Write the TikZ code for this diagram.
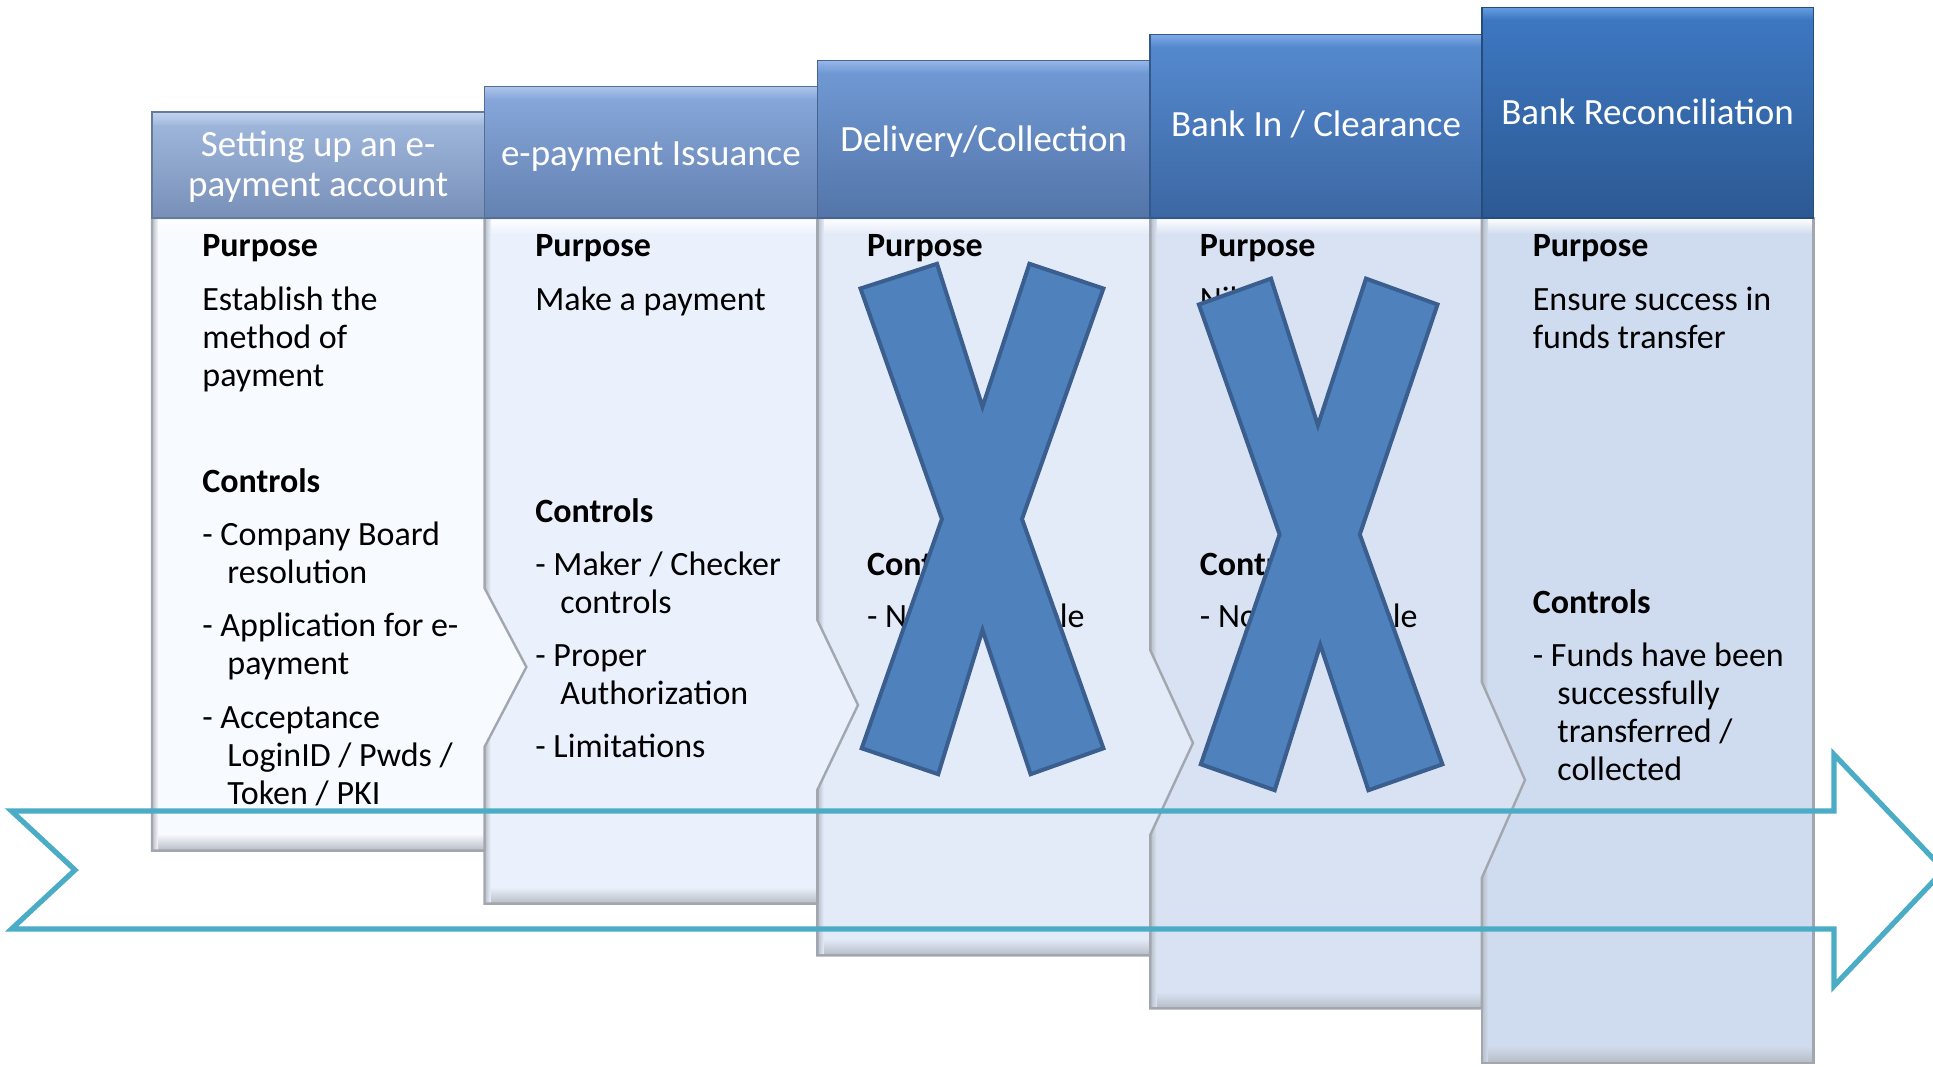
\documentclass[tikz,border=0pt]{standalone}
\usepackage{fontspec}
\setmainfont{Carlito}
\definecolor{bd1}{HTML}{F7FAFE}
\definecolor{bd2}{HTML}{EBF1FC}
\definecolor{bd3}{HTML}{E3EAF8}
\definecolor{bd4}{HTML}{D9E2F3}
\definecolor{bd5}{HTML}{CFDBEE}
\definecolor{hd1t}{HTML}{A3BADF}
\definecolor{hd1b}{HTML}{7890B8}
\definecolor{hd1h}{HTML}{C3D3EE}
\definecolor{hd2t}{HTML}{8AA9DC}
\definecolor{hd2b}{HTML}{6382B2}
\definecolor{hd2h}{HTML}{AEC5EB}
\definecolor{hd3t}{HTML}{729BD6}
\definecolor{hd3b}{HTML}{5375A9}
\definecolor{hd3h}{HTML}{97B7E8}
\definecolor{hd4t}{HTML}{568BD1}
\definecolor{hd4b}{HTML}{3C67A3}
\definecolor{hd4h}{HTML}{80AAE5}
\definecolor{hd5t}{HTML}{3E79C3}
\definecolor{hd5b}{HTML}{2C5993}
\definecolor{hd5h}{HTML}{659DE0}
\definecolor{edgegray}{HTML}{A2A7AF}
\definecolor{bevelgray}{HTML}{B7BCC5}
\definecolor{xfill}{HTML}{4F81BD}
\definecolor{xedge}{HTML}{3A5F8F}
\definecolor{arrowteal}{HTML}{4BACC6}
\begin{document}
\begin{tikzpicture}[x=0.5pt,y=-0.5pt,
  bodytxt/.style={anchor=base west, inner sep=0pt, font=\fontsize{17}{19}\selectfont, text=black},
  headtxt/.style={anchor=base, inner sep=0pt, font=\fontsize{18.5}{20.5}\selectfont, text=white},
  colborder/.style={draw=edgegray, line width=1.2pt, line join=miter},
  hdborder/.style={line width=0.8pt},
  xmark/.style={fill=xfill, draw=xedge, line width=2pt, line join=miter},
  bigarrow/.style={draw=arrowteal, line width=2.6pt, line join=miter}]
\useasboundingbox (0,0) rectangle (1933,1066);
\fill[white] (0,0) rectangle (1933,1066);
\begin{scope}
\clip (0,0) rectangle (1933,1066);

% ---------- column 5 body ----------
\fill[bd5] (1481.8,218) rectangle (1813.4,1062.7);
\shade[top color=white, bottom color=bd5] (1481.8,218) rectangle (1813.4,234);
\shade[top color=bd5, bottom color=bevelgray] (1481.8,1046) rectangle (1813.4,1062.7);
\shade[left color=bevelgray, right color=bd5] (1481.8,218) rectangle (1488,1062.7);
\draw[colborder] (1481.8,218) rectangle (1813.4,1062.7);

% ---------- column 4 body ----------
\fill[bd4] (1150.2,218) -- (1481.8,218) -- (1481.8,682) -- (1525,780) -- (1481.8,878) -- (1481.8,1008.4) -- (1150.2,1008.4) -- cycle;
\shade[top color=white, bottom color=bd4] (1150.2,218) rectangle (1481.8,234);
\shade[top color=bd4, bottom color=bevelgray] (1150.2,992) rectangle (1481.8,1008.4);
\shade[left color=bevelgray, right color=bd4] (1150.2,218) rectangle (1156.4,1008.4);
\draw[colborder] (1150.2,218) -- (1481.8,218) -- (1481.8,682) -- (1525,780) -- (1481.8,878) -- (1481.8,1008.4) -- (1150.2,1008.4) -- cycle;

% ---------- column 3 body ----------
\fill[bd3] (817.3,218) -- (1150.2,218) -- (1150.2,650) -- (1193,743) -- (1150.2,835) -- (1150.2,955.4) -- (817.3,955.4) -- cycle;
\shade[top color=white, bottom color=bd3] (817.3,218) rectangle (1150.2,234);
\shade[top color=bd3, bottom color=bevelgray] (817.3,939) rectangle (1150.2,955.4);
\shade[left color=bevelgray, right color=bd3] (817.3,218) rectangle (823.5,955.4);
\draw[colborder] (817.3,218) -- (1150.2,218) -- (1150.2,650) -- (1193,743) -- (1150.2,835) -- (1150.2,955.4) -- (817.3,955.4) -- cycle;

% ---------- column 2 body ----------
\fill[bd2] (484.5,218) -- (817.3,218) -- (817.3,620) -- (858,705) -- (817.3,790) -- (817.3,903.6) -- (484.5,903.6) -- cycle;
\shade[top color=white, bottom color=bd2] (484.5,218) rectangle (817.3,234);
\shade[top color=bd2, bottom color=bevelgray] (484.5,887) rectangle (817.3,903.6);
\shade[left color=bevelgray, right color=bd2] (484.5,218) rectangle (490.7,903.6);
\draw[colborder] (484.5,218) -- (817.3,218) -- (817.3,620) -- (858,705) -- (817.3,790) -- (817.3,903.6) -- (484.5,903.6) -- cycle;

% ---------- column 1 body ----------
\fill[bd1] (152,218) -- (484.5,218) -- (484.5,588) -- (526.4,667) -- (484.5,747) -- (484.5,850.6) -- (152,850.6) -- cycle;
\shade[top color=white, bottom color=bd1] (152,218) rectangle (484.5,234);
\shade[top color=bd1, bottom color=bevelgray] (152,834) rectangle (484.5,850.6);
\shade[left color=bevelgray, right color=bd1] (152,218) rectangle (158.2,850.6);
\draw[colborder] (152,218) -- (484.5,218) -- (484.5,588) -- (526.4,667) -- (484.5,747) -- (484.5,850.6) -- (152,850.6) -- cycle;

% ---------- headers ----------
\shade[top color=hd1t, bottom color=hd1b] (152,112.2) rectangle (484.5,218);
\shade[top color=hd1h, bottom color=hd1t] (152,112.2) rectangle (484.5,124);
\draw[hdborder, draw=hd1b!85!black] (152,112.2) rectangle (484.5,218);

\shade[top color=hd2t, bottom color=hd2b] (484.5,86.3) rectangle (817.3,218);
\shade[top color=hd2h, bottom color=hd2t] (484.5,86.3) rectangle (817.3,98);
\draw[hdborder, draw=hd2b!85!black] (484.5,86.3) rectangle (817.3,218);

\shade[top color=hd3t, bottom color=hd3b] (817.3,60.4) rectangle (1150.2,218);
\shade[top color=hd3h, bottom color=hd3t] (817.3,60.4) rectangle (1150.2,72);
\draw[hdborder, draw=hd3b!85!black] (817.3,60.4) rectangle (1150.2,218);

\shade[top color=hd4t, bottom color=hd4b] (1150.2,34.5) rectangle (1481.8,218);
\shade[top color=hd4h, bottom color=hd4t] (1150.2,34.5) rectangle (1481.8,46);
\draw[hdborder, draw=hd4b!85!black] (1150.2,34.5) rectangle (1481.8,218);

\shade[top color=hd5t, bottom color=hd5b] (1481.8,7.4) rectangle (1813.4,218);
\shade[top color=hd5h, bottom color=hd5t] (1481.8,7.4) rectangle (1813.4,19);
\draw[hdborder, draw=hd5b!85!black] (1481.8,7.4) rectangle (1813.4,218);

% ---------- header texts ----------
\node[headtxt] (h1a) at (318.25,156) {Setting up an e-};
\node[headtxt] (h1b) at (318.25,196.7) {payment account};
\node[headtxt] (h2) at (650.9,165) {e-payment Issuance};
\node[headtxt] (h3) at (983.75,151) {Delivery/Collection};
\node[headtxt] (h4) at (1316,136.7) {Bank In / Clearance};
\node[headtxt] (h5) at (1647.6,124.4) {Bank Reconciliation};

% ---------- column 1 texts ----------
\node[bodytxt] (c1p) at (202,256) {\bfseries Purpose};
\node[bodytxt] (c1a) at (202,310.5) {Establish the};
\node[bodytxt] (c1b) at (202,348.5) {method of};
\node[bodytxt] (c1c) at (202,386.5) {payment};
\node[bodytxt] (c1k) at (202,492.3) {\bfseries Controls};
\node[bodytxt] (c1d) at (202,545) {- Company Board};
\node[bodytxt] (c1e) at (227,583) {resolution};
\node[bodytxt] (c1f) at (202,636) {- Application for e-};
\node[bodytxt] (c1g) at (227,674) {payment};
\node[bodytxt] (c1h) at (202,728.5) {- Acceptance};
\node[bodytxt] (c1i) at (227,766) {LoginID / Pwds /};
\node[bodytxt] (c1j) at (227,804) {Token / PKI};

% ---------- column 2 texts ----------
\node[bodytxt] (c2p) at (535,256) {\bfseries Purpose};
\node[bodytxt] (c2a) at (535,310.5) {Make a payment};
\node[bodytxt] (c2k) at (535,522.3) {\bfseries Controls};
\node[bodytxt] (c2b) at (535,575) {- Maker / Checker};
\node[bodytxt] (c2c) at (560,613) {controls};
\node[bodytxt] (c2d) at (535,666) {- Proper};
\node[bodytxt] (c2e) at (560,704) {Authorization};
\node[bodytxt] (c2f) at (535,757.5) {- Limitations};

% ---------- column 3 texts ----------
\node[bodytxt] (c3p) at (866.7,256) {\bfseries Purpose};
\node[bodytxt] (c3k) at (866.7,575.5) {\bfseries Controls};
\node[bodytxt] (c3a) at (866.7,627) {- Not applicable};

% ---------- column 4 texts ----------
\node[bodytxt] (c4p) at (1199.5,256) {\bfseries Purpose};
\node[bodytxt] (c4a) at (1199.5,310.5) {Nil};
\node[bodytxt] (c4k) at (1199.5,575.5) {\bfseries Controls};
\node[bodytxt] (c4b) at (1199.5,627) {- Not applicable};

% ---------- column 5 texts ----------
\node[bodytxt] (c5p) at (1532.4,256) {\bfseries Purpose};
\node[bodytxt] (c5a) at (1532.4,310.5) {Ensure success in};
\node[bodytxt] (c5b) at (1532.4,348.5) {funds transfer};
\node[bodytxt] (c5k) at (1532.4,613) {\bfseries Controls};
\node[bodytxt] (c5c) at (1532.4,666) {- Funds have been};
\node[bodytxt] (c5d) at (1557,704) {successfully};
\node[bodytxt] (c5e) at (1557,742) {transferred /};
\node[bodytxt] (c5f) at (1557,780) {collected};

% ---------- X marks ----------
\draw[xmark] (860.5,288.5) -- (937,263.8) -- (982.5,406.8) -- (1029.4,263.8) -- (1103.4,288.5) -- (1022,519) -- (1103.4,748.3) -- (1030.6,774.2) -- (982.5,630) -- (938.2,774.2) -- (861.7,748.3) -- (941.9,519) -- cycle;
\draw[xmark] (1198.9,304.5) -- (1271,278.6) -- (1317.9,425.3) -- (1366,278.6) -- (1437.5,304.5) -- (1359.8,534.4) -- (1442.4,764.3) -- (1368.4,790.2) -- (1320.3,644.8) -- (1274.7,790.2) -- (1200.8,764.3) -- (1279.6,534.4) -- cycle;

% ---------- big process arrow ----------
\draw[bigarrow] (11.5,811) -- (1834,811) -- (1834,754.5) -- (1944,870) -- (1834,986) -- (1834,929) -- (11.5,929) -- (75,870) -- cycle;
\end{scope}
\end{tikzpicture}
\end{document}
